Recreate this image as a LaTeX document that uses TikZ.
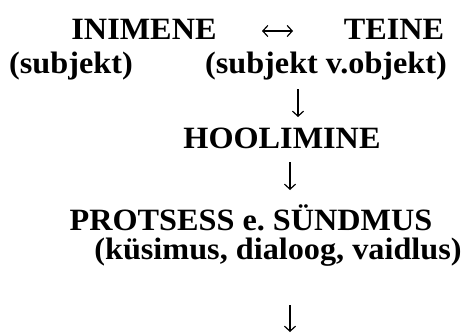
\documentclass[tikz,border=0pt]{standalone}
\usepackage{fontspec}
\setmainfont[FakeStretch=1.04]{Liberation Serif}
\usetikzlibrary{arrows.meta}
\tikzset{
  label text/.style={font=\fontsize{31}{36}\selectfont\bfseries, inner sep=0pt, anchor=base},
  flow arrow/.style={line width=1.2pt, -{Straight Barb[length=5pt,width=11pt,line width=1.2pt]}},
  pair arrow/.style={line width=1.2pt, {Straight Barb[length=5pt,width=11pt,line width=1.2pt]}-{Straight Barb[length=5pt,width=11pt,line width=1.2pt]}}
}
\begin{document}
\begin{tikzpicture}[x=1pt,y=-1pt]
  \useasboundingbox (0,0) rectangle (471,332);
  % top row: the two parties
  \node[label text] (inimene) at (144,39) {INIMENE};
  \node[label text] (teine) at (394,39) {TEINE};
  \node[label text] (subj1) at (71,73) {(subjekt)};
  \node[label text] (subj2) at (326,73) {(subjekt v.objekt)};
  % middle and lower stages
  \node[label text] (hool) at (282,148) {HOOLIMINE};
  \node[label text] (prots) at (251,230) {PROTSESS e.\ SÜNDMUS};
  \node[label text] (kys) at (278,259) {(küsimus, dialoog, vaidlus)};
  % arrow end points
  \coordinate (lr1) at (262,31);
  \coordinate (lr2) at (293,31);
  \coordinate (d1a) at (298,89);
  \coordinate (d1b) at (298,117);
  \coordinate (d2a) at (290,162);
  \coordinate (d2b) at (290,190);
  \coordinate (d3a) at (290,305);
  \coordinate (d3b) at (290,332);
  % connectors
  \draw[pair arrow] (lr1) -- (lr2);
  \draw[flow arrow] (d1a) -- (d1b);
  \draw[flow arrow] (d2a) -- (d2b);
  \draw[flow arrow] (d3a) -- (d3b);
\end{tikzpicture}
\end{document}
